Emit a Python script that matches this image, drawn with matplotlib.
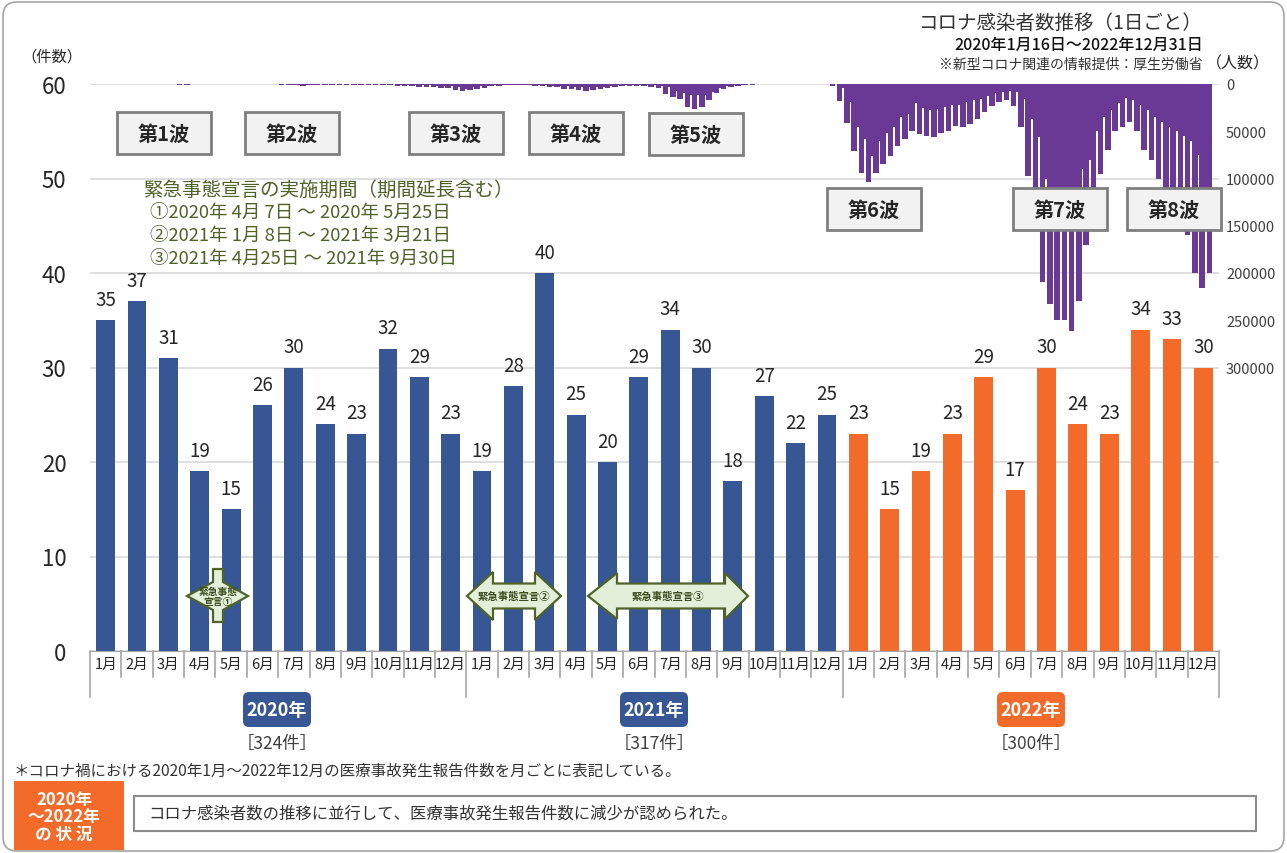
import numpy as np
import pandas as pd
import matplotlib
matplotlib.use("Agg")
import matplotlib.pyplot as plt
from matplotlib.patches import FancyBboxPatch, Rectangle, Polygon

plt.rcParams['font.family'] = ['Noto Sans CJK JP', 'DejaVu Sans']

# monthly medical accident reports (件数)
months = [f"{m}月" for m in range(1, 13)] * 3
reports_2020 = [35, 37, 31, 19, 15, 26, 30, 24, 23, 32, 29, 23]
reports_2021 = [19, 28, 40, 25, 20, 29, 34, 30, 18, 27, 22, 25]
reports_2022 = [23, 15, 19, 23, 29, 17, 30, 24, 23, 34, 33, 30]
years = ["2020年", "2021年", "2022年"]
year_totals = ["［324件］", "［317件］", "［300件］"]
waves = ["第1波", "第2波", "第3波", "第4波", "第5波", "第6波", "第7波", "第8波"]

# new corona cases, weekly high / low of the daily count, weeks from 2020-01-16
cases_start = "2020-01-16"
week_max_2020 = [1, 3, 5, 5, 15, 20, 25, 60, 60, 90, 200, 400, 720, 580, 440, 260, 120,
                 60, 40, 50, 50, 70, 60, 130, 250, 420, 670, 980, 1580, 1600, 1200, 1000,
                 800, 650, 650, 600, 650, 650, 750, 620, 800, 1000, 1600, 2400, 2500, 2700,
                 2800, 3200, 3800, 4500, 6000]
week_min_2020 = [0, 0, 0, 0, 2, 3, 5, 20, 20, 35, 90, 150, 300, 350, 150, 100, 50,
                 20, 15, 30, 25, 30, 30, 60, 150, 200, 300, 600, 900, 800, 700, 500,
                 400, 300, 300, 200, 300, 350, 300, 300, 400, 500, 800, 1100, 1200, 1400,
                 1500, 1700, 1900, 2300, 3100]
week_max_2021 = [7900, 6600, 5300, 3900, 2600, 1800, 1500, 1200, 1300, 1500, 1700, 2100,
                 2800, 3500, 4800, 5700, 5900, 7200, 6800, 5700, 4000, 2900, 2000, 1800,
                 1900, 2300, 3200, 4000, 10700, 14200, 15800, 23900, 26000, 24000, 17000,
                 10000, 5500, 3500, 2000, 1100, 600, 370, 300, 250, 210, 180, 150, 170,
                 200, 250, 390, 2600]
week_min_2021 = [4900, 3400, 2300, 1800, 1200, 1000, 700, 700, 700, 700, 800, 1300,
                 1600, 2000, 2600, 3200, 3000, 2700, 3700, 3000, 1900, 1400, 1000, 800,
                 1000, 1200, 1500, 2300, 3000, 7700, 10000, 11400, 12000, 11500, 8000,
                 4000, 2100, 1100, 800, 500, 250, 150, 90, 110, 80, 70, 50, 70,
                 80, 100, 160, 500]
week_max_2022 = [18000, 41000, 71000, 94000, 104000, 94000, 85000, 76000, 66000, 58000,
                 50000, 53000, 55000, 56000, 52000, 50000, 44000, 45000, 42000, 37000,
                 30000, 23000, 19000, 17000, 23000, 45000, 97000, 152000, 210000, 233000,
                 250000, 250000, 261000, 230000, 170000, 130000, 95000, 70000, 50000, 45000,
                 40000, 50000, 70000, 80000, 100000, 115000, 125000, 130000, 160000, 200000,
                 216000, 200000]
week_min_2022 = [4000, 19000, 46000, 58000, 76000, 60000, 52000, 45000, 35000, 32000,
                 20000, 25000, 27000, 26000, 24000, 22000, 22000, 19000, 17000, 16000,
                 13000, 9500, 8000, 7000, 8000, 16000, 37000, 56000, 100000, 130000,
                 140000, 150000, 140000, 90000, 80000, 50000, 35000, 28000, 20000, 15000,
                 17000, 22000, 27000, 35000, 40000, 45000, 50000, 55000, 60000, 75000,
                 110000, 130000]

W, H = 1287, 854
L, R, T, B = 90, 1219, 85, 652
BLUE, ORANGE, PURPLE = '#365694', '#f26b2a', '#6a3996'
OLIVE = '#4f6228'

fig = plt.figure(figsize=(W / 100, H / 100), dpi=100)
rect = [L / W, 1 - B / H, (R - L) / W, (B - T) / H]

# ---- bars
ax = fig.add_axes(rect)
ax.set_zorder(1)
x = np.arange(36)
values = reports_2020 + reports_2021 + reports_2022
colors = [BLUE] * 24 + [ORANGE] * 12
ax.bar(x, values, width=0.6, color=colors, zorder=2)
ax.set_xlim(-0.5, 35.5)
ax.set_ylim(0, 60)
ax.set_yticks(range(0, 61, 10))
ax.yaxis.grid(True, color='#d9d9d9', lw=1.2)
ax.set_axisbelow(True)
for s in ['top', 'right', 'left']:
    ax.spines[s].set_visible(False)
ax.spines['bottom'].set_color('#a6a6a6')
ax.tick_params(axis='y', length=0, labelsize=16, pad=17, labelcolor='#262626')
ax.set_xticks(x)
ax.set_xticklabels(months, fontsize=10.5, color='#262626')
ax.tick_params(axis='x', length=0, pad=4)
for xi, v in zip(x, values):
    ax.annotate(str(v), (xi, v), xytext=(0, 15), textcoords='offset points',
                ha='center', va='center', fontsize=13.5, color='#262626')

trans = ax.get_xaxis_transform()
for i in range(37):
    depth = 46 if i % 12 == 0 else 26
    ax.plot([i - 0.5, i - 0.5], [0, -depth / (B - T)], transform=trans,
            color='#a6a6a6', lw=1.2, clip_on=False)

# ---- infections (inverted, right axis)
axi = fig.add_axes(rect)
axi.set_zorder(2)
axi.patch.set_visible(False)
week_max = np.array(week_max_2020 + week_max_2021 + week_max_2022)
week_min = np.array(week_min_2020 + week_min_2021 + week_min_2022)
dates = pd.date_range(cases_start, periods=len(week_max), freq='7D')
days = (dates - pd.Timestamp(cases_start)).days.values
edges = np.append(days, days[-1] + 3)
axi.fill_between(edges, np.append(week_min, week_min[-1]), 0, step='post',
                 color=PURPLE, lw=0)
axi.bar(days, week_max, width=5.3, align='edge', color=PURPLE, lw=0)
axi.set_xlim(0, 1090)
axi.set_ylim(600000, 0)
axi.xaxis.set_visible(False)
for s in axi.spines.values():
    s.set_visible(False)
axi.yaxis.tick_right()
rticks = list(range(0, 300001, 50000))
axi.set_yticks(rticks)
axi.set_yticklabels([str(t) for t in rticks])
axi.tick_params(axis='y', length=0, pad=5, labelsize=10.5, labelcolor='#404040')

# ---- overlay in pixel coordinates
ov = fig.add_axes([0, 0, 1, 1])
ov.set_zorder(5)
ov.patch.set_visible(False)
ov.set_xlim(0, W)
ov.set_ylim(H, 0)
ov.axis('off')

ov.add_patch(FancyBboxPatch((3, 3), W - 6, H - 5, boxstyle='round,pad=0,rounding_size=14',
                            fc='none', ec='#a6a6a6', lw=1.2))

ov.text(52, 57, "（件数）", ha='center', va='center', fontsize=11, color='#262626')
ov.text(1203, 23, "コロナ感染者数推移（1日ごと）", ha='right', va='center',
        fontsize=14, color='#333333')
ov.text(1203, 45, "2020年1月16日～2022年12月31日", ha='right', va='center',
        fontsize=11.5, color='#111111', fontweight='medium')
ov.text(1203, 65, "※新型コロナ関連の情報提供：厚生労働省", ha='right', va='center',
        fontsize=10, color='#333333')
ov.text(1206, 64, "（人数）", ha='left', va='center', fontsize=11.5, color='#262626')

# wave boxes
wave_pos = [(164, 134), (292, 134), (456, 134), (576, 134), (696, 135),
            (874, 210), (1060, 210), (1174, 210)]
for name, (cx, cy) in zip(waves, wave_pos):
    ov.add_patch(Rectangle((cx - 47, cy - 21), 94, 42, fc='#f2f2f2', ec='#7f7f7f', lw=2))
    ov.text(cx, cy, name, ha='center', va='center', fontsize=14.5, fontweight='bold',
            color='#262626')

# emergency declaration text
ov.text(143, 190, "緊急事態宣言の実施期間（期間延長含む）", ha='left', va='center',
        fontsize=14, color=OLIVE)
decl_lines = ["①2020年 4月 7日 ～ 2020年 5月25日",
              "②2021年 1月 8日 ～ 2021年 3月21日",
              "③2021年 4月25日 ～ 2021年 9月30日"]
for i, line in enumerate(decl_lines):
    ov.text(150, 213 + 23 * i, line, ha='left', va='center', fontsize=13.3, color=OLIVE)

# declaration arrows
arrow_fc, arrow_ec = '#e2efd9', OLIVE
shape1 = [(187, 597), (213, 583), (213, 570), (223, 570), (223, 583), (248, 597),
          (223, 611), (223, 623), (213, 623), (213, 611)]


def double_arrow(x0, xb0, xb1, x1, cy=597, head=24, shaft=12.5):
    return [(x0, cy), (xb0, cy - head), (xb0, cy - shaft), (xb1, cy - shaft),
            (xb1, cy - head), (x1, cy), (xb1, cy + head), (xb1, cy + shaft),
            (xb0, cy + shaft), (xb0, cy + head)]


for pts in [shape1, double_arrow(467, 493, 535, 561), double_arrow(588, 617, 725, 748, head=23)]:
    ov.add_patch(Polygon(pts, closed=True, fc=arrow_fc, ec=arrow_ec, lw=1.6))
ov.text(218, 597, "緊急事態\n宣言①", ha='center', va='center', fontsize=7,
        fontweight='bold', color='#3d4d20', linespacing=1.1)
ov.text(514, 597, "緊急事態宣言②", ha='center', va='center', fontsize=7.5,
        fontweight='bold', color='#3d4d20')
ov.text(668, 597, "緊急事態宣言③", ha='center', va='center', fontsize=7.5,
        fontweight='bold', color='#3d4d20')

# year badges
badge_cx = [277, 654, 1031]
for yr, tot, cx, c in zip(years, year_totals, badge_cx, [BLUE, BLUE, ORANGE]):
    ov.add_patch(FancyBboxPatch((cx - 34, 693), 68, 35, boxstyle='round,pad=0,rounding_size=6',
                                fc=c, ec='none'))
    ov.text(cx, 711, yr, ha='center', va='center', fontsize=13, fontweight='bold', color='white')
    ov.text(cx, 744, tot, ha='center', va='center', fontsize=12.5, color='#404040')

# footer
ov.text(14, 771, "＊コロナ禍における2020年1月～2022年12月の医療事故発生報告件数を月ごとに表記している。",
        ha='left', va='center', fontsize=11.2, color='#333333')
ov.add_patch(Rectangle((14, 782), 110, 69, fc=ORANGE, ec='none'))
for i, line in enumerate(["2020年", "～2022年", "の 状 況"]):
    ov.text(64, 800 + 17.5 * i, line, ha='center', va='center', fontsize=12,
            fontweight='bold', color='white')
ov.add_patch(Rectangle((134, 797), 1122, 35, fc='white', ec='#8c8c8c', lw=1.5))
ov.text(148, 814, "コロナ感染者数の推移に並行して、医療事故発生報告件数に減少が認められた。",
        ha='left', va='center', fontsize=11.8, color='#333333')

fig.savefig("out.png", dpi=100)
